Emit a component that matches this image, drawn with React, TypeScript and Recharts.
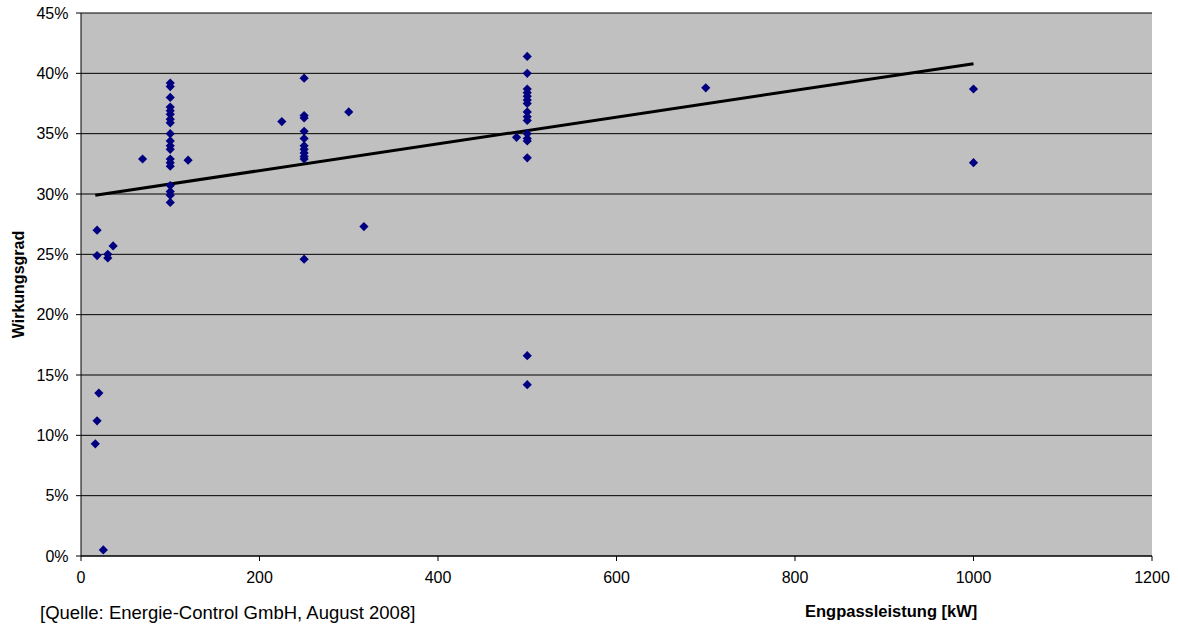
import {
  CartesianGrid,
  ReferenceLine,
  Scatter,
  ScatterChart,
  XAxis,
  YAxis,
} from 'recharts'

// [Engpassleistung kW, Wirkungsgrad %]
const smallPlants: Array<[number, number]> = [
  [16, 9.3], [18, 11.2], [20, 13.5], [25, 0.5], [18, 27.0], [18, 24.9],
  [30, 25.0], [30, 24.7], [36, 25.7], [69, 32.9], [120, 32.8],
]
const plants100 = [
  39.2, 38.9, 38.0, 37.2, 36.9, 36.6, 36.2, 35.9, 35.0, 34.4, 34.0, 33.7,
  32.9, 32.6, 32.3, 30.7, 30.2, 29.9, 29.3,
]
const plants250 = [39.6, 36.5, 36.3, 35.2, 34.6, 34.0, 33.7, 33.4, 33.1, 32.9, 24.6]
const plants500 = [
  41.4, 40.0, 38.7, 38.4, 38.1, 37.8, 37.5, 36.8, 36.4, 36.1, 35.0, 34.6,
  34.4, 33.0, 16.6, 14.2,
]
const otherPlants: Array<[number, number]> = [
  [225, 36.0], [300, 36.8], [317, 27.3], [488, 34.7], [700, 38.8],
  [1000, 38.7], [1000, 32.6],
]
// linear trend, read from its two ends
const trendEnds: Array<[number, number]> = [[16, 29.9], [1000, 40.8]]

const xTicks = [0, 200, 400, 600, 800, 1000, 1200]
const yTicks = [0, 5, 10, 15, 20, 25, 30, 35, 40, 45]

const points = [
  ...smallPlants,
  ...plants100.map((y) => [100, y] as [number, number]),
  ...plants250.map((y) => [250, y] as [number, number]),
  ...plants500.map((y) => [500, y] as [number, number]),
  ...otherPlants,
].map(([x, y]) => ({ x, y }))

const Diamond = (props: any) => {
  const { cx, cy } = props
  const r = 4.6
  return (
    <polygon
      points={`${cx},${cy - r} ${cx + r},${cy} ${cx},${cy + r} ${cx - r},${cy}`}
      fill="#000080"
    />
  )
}

const font = 'Liberation Sans, Arial, sans-serif'

export default function App() {
  return (
    <div
      style={{
        position: 'absolute',
        left: 0,
        top: 0,
        width: 1178,
        height: 627,
        background: '#fff',
        fontFamily: font,
      }}
    >
      <ScatterChart
        width={1178}
        height={627}
        margin={{ top: 13, right: 26, bottom: 41, left: 11 }}
      >
        <CartesianGrid
          vertical={false}
          fill="#C0C0C0"
          stroke="#000"
          strokeOpacity={1}
        />
        <XAxis
          type="number"
          dataKey="x"
          domain={[0, 1200]}
          ticks={xTicks}
          interval={0}
          height={30}
          tickSize={5}
          tickMargin={11}
          axisLine={{ stroke: '#000' }}
          tickLine={{ stroke: '#000' }}
          tick={{ fill: '#000', fontSize: 16, fontFamily: font }}
        />
        <YAxis
          type="number"
          dataKey="y"
          domain={[0, 45]}
          ticks={yTicks}
          interval={0}
          width={70}
          tickSize={5}
          tickMargin={7.5}
          tickFormatter={(v) => `${v}%`}
          axisLine={{ stroke: '#000' }}
          tickLine={{ stroke: '#000' }}
          tick={{ fill: '#000', fontSize: 16, fontFamily: font }}
          label={{
            value: 'Wirkungsgrad',
            angle: -90,
            position: 'insideLeft',
            offset: 0,
            dx: 7,
            style: {
              fill: '#000',
              fontSize: 16,
              fontWeight: 'bold',
              fontFamily: font,
              textAnchor: 'middle',
            },
          }}
        />
        <Scatter
          data={points}
          shape={<Diamond />}
          isAnimationActive={false}
        />
        <ReferenceLine
          segment={trendEnds.map(([x, y]) => ({ x, y }))}
          stroke="#000"
          strokeWidth={3}
        />
      </ScatterChart>
      <div
        style={{
          position: 'absolute',
          left: 40,
          top: 602,
          fontSize: 18.5,
          color: '#000',
          whiteSpace: 'nowrap',
        }}
      >
        [Quelle: Energie-Control GmbH, August 2008]
      </div>
      <div
        style={{
          position: 'absolute',
          left: 805,
          top: 602,
          fontSize: 16.5,
          fontWeight: 'bold',
          color: '#000',
          whiteSpace: 'nowrap',
        }}
      >
        Engpassleistung [kW]
      </div>
    </div>
  )
}
